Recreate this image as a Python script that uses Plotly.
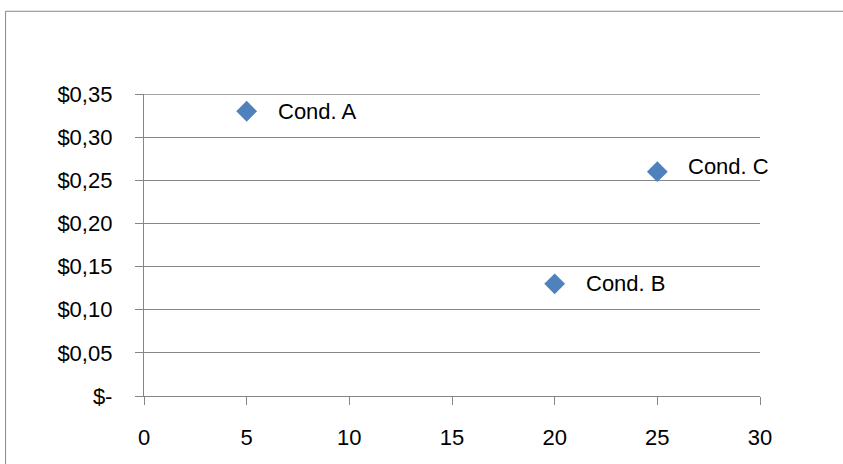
import plotly.graph_objects as go

# data
labels = ["Cond. A", "Cond. B", "Cond. C"]
x_vals = [5, 20, 25]
y_vals = [0.33, 0.13, 0.26]
label_yshift = [0, 0, 5]

y_ticks = [0, 0.05, 0.10, 0.15, 0.20, 0.25, 0.30, 0.35]
y_ticktext = ["$-", "$0,05", "$0,10", "$0,15", "$0,20", "$0,25", "$0,30", "$0,35"]
x_ticks = [0, 5, 10, 15, 20, 25, 30]

grey = "#868686"
font = dict(family="Liberation Sans, Arial, sans-serif", size=22, color="#000000")

fig = go.Figure()
fig.add_trace(go.Scatter(
    x=x_vals, y=y_vals, mode="markers",
    marker=dict(symbol="diamond", size=16, color="#4F81BD"),
    hoverinfo="skip", showlegend=False,
))

for lab, xv, yv, ys in zip(labels, x_vals, y_vals, label_yshift):
    fig.add_annotation(x=xv, y=yv, text=lab, showarrow=False,
                       xanchor="left", yanchor="middle",
                       xshift=29, yshift=ys, font=font)

fig.update_xaxes(
    range=[0, 30], tickvals=x_ticks, showgrid=False, zeroline=False,
    showline=True, linecolor=grey, linewidth=1.3,
    ticks="outside", ticklen=8, tickcolor=grey, tickwidth=1.3,
    ticklabelstandoff=13, tickfont=font,
)
fig.update_yaxes(
    range=[0, 0.35], tickvals=y_ticks, ticktext=y_ticktext,
    showgrid=True, gridcolor=grey, gridwidth=1.3, zeroline=False,
    showline=True, linecolor=grey, linewidth=1.3,
    ticks="outside", ticklen=8, tickcolor=grey, tickwidth=1.3,
    ticklabelstandoff=18, tickfont=font,
)

# plotly drops the gridline sitting on the top edge, so draw it back
fig.add_shape(type="line", xref="paper", yref="y",
              x0=0, x1=1, y0=y_ticks[-1], y1=y_ticks[-1],
              line=dict(color=grey, width=1.3))

# chart area border: only its top and left edges fall inside the frame
border = dict(color=grey, width=1)
fig.add_shape(type="line", xref="paper", yref="paper",
              x0=-0.2247, x1=1.14, y0=1.274, y1=1.274, line=border)
fig.add_shape(type="line", xref="paper", yref="paper",
              x0=-0.2247, x1=-0.2247, y0=-0.3, y1=1.274, line=border)

fig.update_layout(
    width=843, height=464,
    margin=dict(l=143.5, r=83, t=94, b=67.5),
    paper_bgcolor="white", plot_bgcolor="white",
    font=font,
)

# drop the default page margin so the figure sits at the window origin
fig.write_html("out.html", config={"displayModeBar": False},
               post_script="document.body.style.margin='0px';document.body.style.overflow='hidden';")
